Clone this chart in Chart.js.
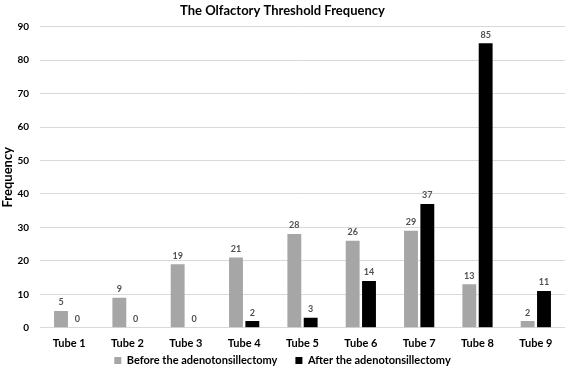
<!DOCTYPE html>
<html><head><meta charset="utf-8">
<script src="https://cdn.jsdelivr.net/npm/chart.js@4/dist/chart.umd.min.js"></script>
<style>html,body{margin:0;padding:0;background:#fff}#wrap{width:567px;height:366px}</style>
</head><body><div id="wrap"><canvas id="c" width="567" height="366"></canvas></div>
<script>
const categories = ["Tube 1","Tube 2","Tube 3","Tube 4","Tube 5","Tube 6","Tube 7","Tube 8","Tube 9"];
const beforeValues = [5, 9, 19, 21, 28, 26, 29, 13, 2];
const afterValues = [0, 0, 0, 2, 3, 14, 37, 85, 11];
const seriesNames = ["Before the adenotonsillectomy", "After the adenotonsillectomy"];
const yTicks = [0,10,20,30,40,50,60,70,80,90];

const FONT = "Lato, 'Open Sans', sans-serif";
const valueLabels = {
  id: 'valueLabels',
  afterDatasetsDraw(chart) {
    const ctx = chart.ctx;
    ctx.save();
    ctx.font = "bold 9px " + FONT;
    ctx.fillStyle = "#505050";
    ctx.textAlign = "center";
    ctx.textBaseline = "bottom";
    chart.data.datasets.forEach((ds, i) => {
      chart.getDatasetMeta(i).data.forEach((bar, j) => {
        ctx.fillText(String(ds.data[j]), bar.x, bar.y - 4);
      });
    });
    ctx.restore();
  }
};
// compact the legend vertically while keeping wide horizontal spacing between items
const legendCompact = {
  id: 'legendCompact',
  beforeUpdate(chart) {
    const lg = chart.legend;
    if (!lg || lg._compact) return;
    lg._compact = true;
    const fit = lg.fit, draw = lg.draw;
    lg.fit = function () { fit.call(this); this.height = 7; };
    lg.draw = function () { const t = this.top; this.top = t - 22; draw.apply(this, arguments); this.top = t; };
  }
};

new Chart(document.getElementById('c'), {
  type: 'bar',
  data: {
    labels: categories,
    datasets: [
      { label: seriesNames[0], data: beforeValues, backgroundColor: '#a6a6a6', categoryPercentage: 0.56, barPercentage: 0.85 },
      { label: seriesNames[1], data: afterValues, backgroundColor: '#000000', categoryPercentage: 0.56, barPercentage: 0.85 }
    ]
  },
  options: {
    responsive: false,
    animation: false,
    layout: { padding: { left: 0, right: 2, top: 0, bottom: 0 } },
    plugins: {
      title: { display: true, text: 'The Olfactory Threshold Frequency', color: '#000', font: { family: FONT, size: 13, weight: 'bold' }, padding: { top: 3, bottom: 8 } },
      legend: { position: 'bottom', labels: { boxWidth: 7, boxHeight: 7, color: '#000', font: { family: FONT, size: 11, weight: 'bold' }, padding: 18 } },
      tooltip: { enabled: false }
    },
    scales: {
      x: {
        grid: { display: false, drawTicks: false },
        border: { display: false },
        ticks: { color: '#000', font: { family: FONT, size: 11, weight: 'bold' }, padding: 9 }
      },
      y: {
        min: 0, max: 90,
        afterBuildTicks(scale) { scale.ticks = yTicks.map(v => ({ value: v })); },
        afterFit(scale) { scale.width = 40; },
        grid: { color: '#d9d9d9', drawTicks: false },
        border: { display: false },
        title: { display: true, text: 'Frequency', color: '#000', font: { family: FONT, size: 13, weight: 'bold' }, padding: { top: 0, bottom: 0 } },
        ticks: { color: '#000', font: { family: FONT, size: 10, weight: 'bold' }, padding: 11 }
      }
    }
  },
  plugins: [valueLabels, legendCompact]
});
</script></body></html>
